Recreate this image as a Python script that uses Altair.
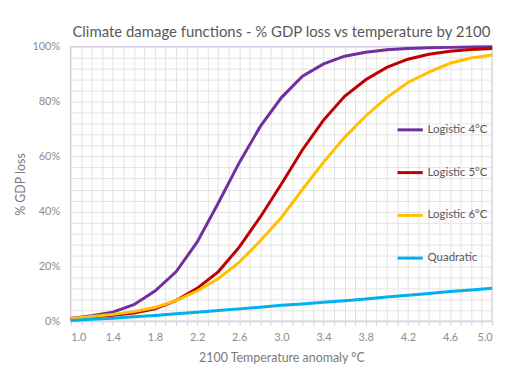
import altair as alt
import pandas as pd

temps = [1.0, 1.2, 1.4, 1.6, 1.8, 2.0, 2.2, 2.4, 2.6, 2.8, 3.0, 3.2, 3.4, 3.6, 3.8, 4.0, 4.2, 4.4, 4.6, 4.8, 5.0]
logistic4 = [1.0, 2.0, 3.3, 6.0, 11.0, 18.0, 28.8, 43.0, 57.8, 71.0, 81.5, 89.3, 93.8, 96.6, 98.0, 98.9, 99.4, 99.7, 99.8, 99.9, 100.0]
logistic5 = [1.0, 1.5, 2.2, 3.0, 4.5, 7.5, 12.0, 18.0, 27.0, 38.0, 50.0, 62.5, 73.3, 82.0, 88.0, 92.5, 95.5, 97.3, 98.4, 99.0, 99.4]
logistic6 = [1.0, 1.7, 2.5, 3.5, 5.0, 7.5, 11.0, 15.5, 21.5, 29.3, 37.8, 48.0, 58.0, 67.0, 74.8, 81.5, 87.0, 90.8, 94.0, 95.9, 97.0]
quadratic = [0.3, 0.7, 1.1, 1.6, 2.1, 2.7, 3.3, 3.9, 4.5, 5.1, 5.8, 6.3, 6.9, 7.5, 8.1, 8.8, 9.5, 10.1, 10.8, 11.4, 12.0]

series_names = ["Logistic 4°C", "Logistic 5°C", "Logistic 6°C", "Quadratic"]
series_values = [logistic4, logistic5, logistic6, quadratic]
colors = ["#7030a0", "#c00000", "#ffc000", "#00b0f0"]

x_grid = [round(1.0 + 0.1 * i, 1) for i in range(41)]
y_grid = [round(0.04 * i, 2) for i in range(26)]

rows = []
for name, vals in zip(series_names, series_values):
    for t, v in zip(temps, vals):
        rows.append({"temp": t, "loss": v / 100.0, "series": name})
df = pd.DataFrame(rows)

chart = alt.Chart(df).mark_line(strokeWidth=3).encode(
    x=alt.X("temp:Q", scale=alt.Scale(domain=[1.0, 5.0], nice=False),
            axis=alt.Axis(values=x_grid, title="2100 Temperature anomaly °C",
                          labelExpr="(round(datum.value*10) - 10) % 4 == 0 ? format(datum.value, '.1f') : ''",
                          grid=True, gridColor="#e3e3e3", tickColor="#d0d0d0", tickSize=4,
                          domainColor="#d9d9d9", labelColor="#8c8c8c", labelFontSize=11,
                          labelFont="Lato", titleFont="Lato", titleFontSize=12.5, titleFontWeight="normal",
                          titleColor="#7a7a7a", labelPadding=6, titlePadding=10)),
    y=alt.Y("loss:Q", scale=alt.Scale(domain=[0, 1], nice=False),
            axis=alt.Axis(values=y_grid, title="% GDP loss",
                          labelExpr="round(datum.value*100) % 20 == 0 ? format(datum.value, '.0%') : ''",
                          grid=True, gridColor="#e3e3e3", ticks=False, domain=False,
                          labelColor="#8c8c8c", labelFontSize=11, labelFont="Lato",
                          titleFont="Lato", titleFontSize=12.5, titleFontWeight="normal",
                          titleColor="#7a7a7a", labelPadding=11, titlePadding=4)),
    color=alt.Color("series:N", scale=alt.Scale(domain=series_names, range=colors),
                    legend=alt.Legend(title=None, orient="none", legendX=327, legendY=69,
                                      symbolType="stroke", symbolSize=650, symbolStrokeWidth=3,
                                      rowPadding=22, labelFont="Lato", labelFontSize=11.5,
                                      labelColor="#595959", labelOffset=3)),
).properties(
    width=424, height=276,
    autosize=alt.AutoSizeParams(type="none"),
    padding={"left": 63, "top": 38, "right": 30, "bottom": 48},
    title=alt.Title("Climate damage functions - % GDP loss vs temperature by 2100",
                    font="Lato", fontSize=15, fontWeight="normal", color="#595959",
                    offset=1, dx=0),
).configure_view(stroke="#d5c2e6", strokeWidth=1.5)

chart.save("out.html", embed_options={"renderer": "svg", "actions": False})
